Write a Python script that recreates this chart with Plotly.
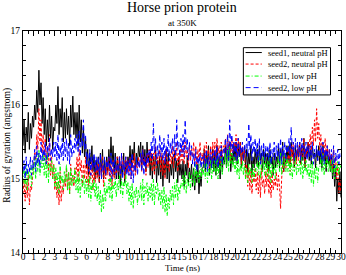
import plotly.graph_objects as go

# time axis: 0 .. 30 ns, step 0.1 ns
time_ns = [round(i * 0.1, 1) for i in range(301)]

seed1_neutral = [
    15.45, 15.8, 15.35, 15.7, 15.5, 15.9, 15.4, 15.75, 15.55, 15.85,
    15.7, 16.0, 15.8, 16.2, 15.9, 16.47, 16.0, 16.3, 15.75, 16.1,
    15.6, 15.95, 15.45, 15.8, 15.5, 16.0, 15.55, 15.85, 15.4, 15.7,
    15.65, 16.0, 15.75, 16.25, 15.6, 15.95, 15.7, 16.1, 15.5, 15.9,
    15.55, 15.95, 15.6, 15.85, 15.45, 16.0, 15.7, 16.12, 15.6, 15.9,
    15.55, 15.9, 15.45, 16.0, 15.5, 15.8, 15.35, 15.7, 15.3, 15.55,
    15.15, 15.4, 15.05, 15.35, 15.2, 15.45, 15.1, 15.3, 15.0, 15.25,
    15.05, 15.3, 14.95, 15.35, 15.1, 15.4, 15.0, 15.25, 15.05, 15.3,
    15.1, 15.4, 15.15, 15.57, 15.2, 15.45, 15.05, 15.35, 15.0, 15.3,
    15.0, 15.3, 14.9, 15.2, 15.05, 15.35, 14.95, 15.25, 15.1, 15.3,
    15.2, 15.45, 15.15, 15.4, 15.25, 15.5, 15.1, 15.35, 15.2, 15.45,
    15.3, 15.5, 15.15, 15.45, 15.2, 15.4, 15.1, 15.5, 15.25, 15.35,
    15.05, 15.35, 15.0, 15.3, 15.1, 15.4, 14.95, 15.25, 15.05, 15.3,
    15.0, 15.3, 14.9, 15.25, 15.05, 15.4, 15.0, 15.35, 14.95, 15.2,
    15.05, 15.3, 15.0, 15.35, 15.1, 15.25, 14.95, 15.3, 15.05, 15.2,
    15.0, 15.25, 14.9, 15.2, 15.05, 15.3, 14.95, 15.15, 15.0, 15.2,
    14.9, 15.15, 14.85, 15.1, 14.95, 15.2, 14.8, 15.05, 14.9, 15.15,
    15.15, 15.4, 15.1, 15.35, 15.2, 15.45, 15.05, 15.3, 15.15, 15.4,
    15.1, 15.35, 15.05, 15.45, 15.15, 15.3, 15.0, 15.4, 15.1, 15.3,
    15.2, 15.45, 15.15, 15.4, 15.25, 15.5, 15.1, 15.35, 15.2, 15.45,
    15.25, 15.5, 15.2, 15.45, 15.3, 15.5, 15.15, 15.4, 15.25, 15.45,
    15.15, 15.4, 15.1, 15.35, 15.2, 15.45, 15.05, 15.3, 15.15, 15.4,
    15.2, 15.4, 15.15, 15.45, 15.25, 15.35, 15.1, 15.4, 15.2, 15.35,
    15.15, 15.35, 15.1, 15.4, 15.2, 15.3, 15.05, 15.35, 15.15, 15.3,
    15.2, 15.45, 15.15, 15.4, 15.25, 15.5, 15.1, 15.35, 15.2, 15.45,
    15.25, 15.45, 15.2, 15.5, 15.3, 15.4, 15.15, 15.45, 15.25, 15.4,
    15.3, 15.5, 15.2, 15.45, 15.25, 15.55, 15.15, 15.4, 15.3, 15.5,
    15.25, 15.4, 15.2, 15.45, 15.3, 15.35, 15.15, 15.4, 15.25, 15.45,
    15.2, 15.4, 15.15, 15.45, 15.25, 15.35, 15.1, 15.4, 15.2, 15.3,
    15.1, 15.3, 15.0, 15.2, 14.9, 15.15, 14.7, 15.0, 14.8, 15.1,
    14.75,
]

seed2_neutral = [
    14.8, 15.0, 14.7, 14.95, 14.75, 15.05, 14.65, 14.9, 14.85, 15.0,
    15.1, 15.35, 15.25, 15.6, 15.4, 15.95, 15.5, 15.8, 15.35, 15.6,
    15.3, 15.55, 15.2, 15.45, 15.1, 15.6, 15.05, 15.3, 15.0, 15.2,
    14.85, 15.05, 14.75, 14.95, 14.65, 15.1, 14.7, 14.9, 14.8, 15.0,
    14.9, 15.15, 14.85, 15.1, 14.8, 15.2, 14.95, 15.05, 14.9, 15.15,
    15.05, 15.3, 14.95, 15.4, 15.1, 15.25, 14.9, 15.2, 15.0, 15.3,
    14.95, 15.2, 14.9, 15.15, 15.0, 15.25, 14.85, 15.1, 14.95, 15.2,
    15.0, 15.25, 14.95, 15.2, 15.05, 15.3, 14.9, 15.15, 15.0, 15.25,
    15.05, 15.3, 14.95, 15.2, 14.9, 15.25, 15.0, 15.15, 15.05, 15.3,
    15.1, 15.3, 15.05, 15.35, 15.15, 15.25, 15.0, 15.3, 15.1, 15.25,
    15.05, 15.3, 15.0, 15.25, 15.1, 15.35, 15.05, 15.2, 15.15, 15.3,
    15.15, 15.35, 15.1, 15.4, 15.2, 15.3, 15.05, 15.35, 15.15, 15.4,
    15.2, 15.4, 15.1, 15.35, 15.05, 15.45, 15.15, 15.3, 15.2, 15.4,
    15.1, 15.35, 15.05, 15.3, 15.0, 15.4, 15.15, 15.25, 15.1, 15.35,
    15.2, 15.45, 15.15, 15.4, 15.25, 15.5, 15.1, 15.35, 15.2, 15.45,
    15.25, 15.45, 15.2, 15.5, 15.3, 15.4, 15.15, 15.45, 15.25, 15.4,
    15.3, 15.5, 15.2, 15.45, 15.15, 15.4, 15.25, 15.5, 15.2, 15.35,
    15.25, 15.45, 15.2, 15.5, 15.3, 15.4, 15.15, 15.45, 15.25, 15.5,
    15.3, 15.5, 15.25, 15.55, 15.35, 15.45, 15.2, 15.5, 15.3, 15.45,
    15.35, 15.55, 15.3, 15.6, 15.4, 15.5, 15.25, 15.55, 15.35, 15.5,
    15.4, 15.6, 15.3, 15.55, 15.35, 15.5, 15.2, 15.45, 15.25, 15.4,
    15.0, 15.2, 14.9, 15.15, 14.85, 15.1, 14.8, 15.05, 14.95, 15.15,
    14.85, 15.1, 14.8, 15.05, 14.75, 15.15, 14.9, 15.0, 14.8, 15.1,
    14.9, 15.15, 14.8, 15.05, 14.75, 15.1, 14.85, 15.0, 14.9, 15.1,
    14.85, 15.05, 14.9, 14.6, 15.0, 15.2, 15.1, 15.35, 15.15, 15.3,
    15.2, 15.4, 15.1, 15.45, 15.25, 15.5, 15.15, 15.35, 15.2, 15.45,
    15.25, 15.5, 15.2, 15.45, 15.3, 15.55, 15.15, 15.4, 15.3, 15.5,
    15.4, 15.6, 15.35, 15.7, 15.45, 15.8, 15.5, 15.95, 15.55, 15.75,
    15.4, 15.6, 15.3, 15.5, 15.25, 15.55, 15.35, 15.45, 15.25, 15.4,
    15.2, 15.35, 15.1, 15.4, 15.15, 15.3, 15.0, 15.2, 14.8, 15.0,
    14.8,
]

seed1_low = [
    14.95, 15.15, 14.9, 15.2, 14.85, 15.1, 15.0, 15.15, 14.9, 15.2,
    15.05, 15.3, 15.0, 15.35, 15.1, 15.4, 15.05, 15.25, 15.15, 15.35,
    15.05, 15.3, 15.0, 15.35, 14.95, 15.2, 15.1, 15.25, 15.0, 15.2,
    14.9, 15.15, 14.85, 15.1, 14.8, 15.2, 14.95, 15.05, 14.85, 15.1,
    14.95, 15.2, 14.85, 15.1, 14.8, 15.15, 14.9, 15.05, 14.95, 15.15,
    14.85, 15.05, 14.8, 15.1, 14.75, 15.0, 14.9, 15.05, 14.8, 15.0,
    14.8, 15.0, 14.75, 15.05, 14.7, 14.95, 14.85, 15.0, 14.75, 14.95,
    14.7, 14.9, 14.65, 14.85, 14.55, 14.8, 14.6, 14.95, 14.7, 14.9,
    14.8, 15.0, 14.75, 15.05, 14.7, 14.95, 14.85, 15.0, 14.75, 14.95,
    14.85, 15.05, 14.8, 15.0, 14.75, 14.95, 14.9, 15.05, 14.8, 14.95,
    14.7, 14.9, 14.65, 14.95, 14.6, 14.85, 14.75, 14.9, 14.65, 14.85,
    14.75, 14.95, 14.7, 15.0, 14.65, 14.9, 14.8, 14.95, 14.7, 14.9,
    14.75, 14.95, 14.7, 15.0, 14.65, 14.9, 14.8, 14.95, 14.7, 14.85,
    14.65, 14.85, 14.6, 14.9, 14.55, 14.8, 14.5, 14.75, 14.6, 14.85,
    14.7, 14.9, 14.65, 14.95, 14.75, 15.0, 14.7, 14.9, 14.8, 14.95,
    14.9, 15.05, 14.85, 15.1, 14.8, 15.0, 14.9, 15.1, 14.85, 15.05,
    14.95, 15.15, 14.9, 15.2, 15.0, 15.1, 14.95, 15.2, 15.0, 15.15,
    15.05, 15.2, 15.0, 15.25, 14.95, 15.15, 15.05, 15.25, 15.0, 15.2,
    15.1, 15.25, 15.05, 15.3, 15.0, 15.2, 15.1, 15.3, 15.05, 15.25,
    15.2, 15.35, 15.15, 15.4, 15.1, 15.45, 15.2, 15.35, 15.15, 15.3,
    15.1, 15.25, 15.05, 15.3, 15.0, 15.2, 15.1, 15.25, 15.05, 15.2,
    15.0, 15.15, 14.95, 15.2, 15.05, 15.15, 14.95, 15.2, 15.0, 15.15,
    15.1, 15.25, 15.05, 15.3, 15.0, 15.2, 15.1, 15.3, 15.05, 15.25,
    15.05, 15.25, 15.0, 15.3, 14.95, 15.2, 15.05, 15.25, 15.0, 15.2,
    15.15, 15.3, 15.1, 15.35, 15.05, 15.25, 15.15, 15.35, 15.1, 15.3,
    15.1, 15.25, 15.05, 15.3, 15.0, 15.2, 15.1, 15.3, 15.05, 15.2,
    15.1, 15.25, 15.05, 15.3, 15.0, 15.2, 15.1, 15.25, 15.05, 15.2,
    15.0, 15.2, 14.95, 15.25, 14.9, 15.15, 15.0, 15.2, 14.95, 15.15,
    15.15, 15.3, 15.1, 15.35, 15.05, 15.25, 15.15, 15.3, 15.1, 15.25,
    15.1, 15.25, 15.05, 15.3, 15.0, 15.2, 15.1, 15.25, 15.05, 15.2,
    15.15,
]

seed2_low = [
    15.1, 15.25, 15.0, 15.3, 15.05, 15.2, 15.1, 15.3, 15.05, 15.25,
    15.15, 15.4, 15.1, 15.45, 15.2, 15.35, 15.15, 15.5, 15.25, 15.4,
    15.25, 15.5, 15.2, 15.45, 15.3, 15.55, 15.25, 15.4, 15.3, 15.5,
    15.3, 15.5, 15.25, 15.6, 15.2, 15.45, 15.3, 15.55, 15.25, 15.5,
    15.3, 15.55, 15.25, 15.5, 15.2, 15.6, 15.3, 15.45, 15.35, 15.55,
    15.4, 15.6, 15.35, 15.65, 15.3, 15.55, 15.45, 15.8, 15.4, 15.6,
    15.2, 15.35, 15.1, 15.4, 15.05, 15.3, 15.15, 15.35, 15.1, 15.3,
    15.1, 15.3, 15.05, 15.35, 15.0, 15.25, 15.1, 15.3, 15.05, 15.25,
    15.15, 15.3, 15.05, 15.35, 15.0, 15.25, 15.1, 15.3, 15.05, 15.2,
    15.1, 15.3, 15.05, 15.35, 15.0, 15.25, 15.1, 15.3, 15.05, 15.25,
    15.05, 15.3, 15.0, 15.35, 14.95, 15.2, 15.1, 15.3, 15.05, 15.25,
    15.15, 15.35, 15.1, 15.4, 15.05, 15.3, 15.15, 15.35, 15.2, 15.4,
    15.3, 15.5, 15.25, 15.75, 15.35, 15.55, 15.2, 15.45, 15.3, 15.6,
    15.3, 15.5, 15.25, 15.55, 15.2, 15.45, 15.3, 15.6, 15.25, 15.5,
    15.35, 15.55, 15.3, 15.6, 15.25, 15.8, 15.4, 15.5, 15.3, 15.55,
    15.35, 15.6, 15.3, 15.8, 15.4, 15.55, 15.25, 15.5, 15.3, 15.45,
    15.2, 15.35, 15.15, 15.4, 15.1, 15.3, 15.2, 15.35, 15.15, 15.3,
    15.2, 15.35, 15.15, 15.4, 15.1, 15.3, 15.2, 15.4, 15.15, 15.35,
    15.25, 15.4, 15.2, 15.45, 15.15, 15.35, 15.25, 15.45, 15.2, 15.4,
    15.35, 15.55, 15.3, 15.6, 15.25, 15.8, 15.4, 15.6, 15.35, 15.5,
    15.3, 15.5, 15.25, 15.55, 15.3, 15.45, 15.35, 15.5, 15.25, 15.45,
    15.35, 15.55, 15.3, 15.75, 15.4, 15.6, 15.25, 15.5, 15.35, 15.55,
    15.3, 15.5, 15.25, 15.55, 15.2, 15.45, 15.3, 15.5, 15.25, 15.45,
    15.3, 15.45, 15.25, 15.5, 15.2, 15.4, 15.3, 15.5, 15.25, 15.45,
    15.3, 15.5, 15.25, 15.55, 15.2, 15.45, 15.3, 15.5, 15.25, 15.45,
    15.35, 15.55, 15.3, 15.7, 15.4, 15.5, 15.25, 15.55, 15.3, 15.5,
    15.3, 15.5, 15.25, 15.55, 15.35, 15.45, 15.3, 15.5, 15.25, 15.45,
    15.3, 15.45, 15.25, 15.5, 15.2, 15.4, 15.3, 15.45, 15.25, 15.4,
    15.3, 15.45, 15.25, 15.5, 15.2, 15.4, 15.3, 15.45, 15.25, 15.4,
    15.25, 15.4, 15.2, 15.45, 15.15, 15.35, 15.25, 15.4, 15.2, 15.35,
    15.3,
]

series_names = ["seed1, neutral pH", "seed2, neutral pH", "seed1, low pH", "seed2, low pH"]
series_values = [seed1_neutral, seed2_neutral, seed1_low, seed2_low]
colors = ["#000000", "#ff0000", "#00ff00", "#0000ff"]
dashes = ["solid", "3px,2px", "4px,2px,1px,2px", "5px,3px"]

x_ticks = list(range(0, 31))
y_ticks = [14, 15, 16, 17]

FONT = "Liberation Serif"

fig = go.Figure()
for name, vals, c, d in zip(series_names, series_values, colors, dashes):
    fig.add_trace(go.Scatter(
        x=time_ns, y=vals, mode="lines", name=name,
        line=dict(color=c, width=1, dash=d), showlegend=False,
    ))

# legend (Grace-style box)
fig.add_shape(type="rect", xref="paper", yref="paper",
              x0=0.693, x1=0.967, y0=0.712, y1=0.925,
              line=dict(color="black", width=1), fillcolor="white", layer="above")
row_y = [0.903, 0.851, 0.797, 0.745]
for name, c, d, yy in zip(series_names, colors, dashes, row_y):
    fig.add_shape(type="line", xref="paper", yref="paper",
                  x0=0.700, x1=0.751, y0=yy, y1=yy,
                  line=dict(color=c, width=1, dash=d), layer="above")
    fig.add_annotation(text=name, xref="paper", yref="paper",
                       x=0.768, y=yy, xanchor="left", yanchor="middle",
                       showarrow=False, borderpad=0,
                       font=dict(family=FONT, size=8.5, color="black"))

fig.add_annotation(text="Horse prion protein", xref="paper", yref="paper",
                   x=0.5, y=1.108, xanchor="center", yanchor="middle",
                   showarrow=False, font=dict(family=FONT, size=14, color="black"))
fig.add_annotation(text="at 350K", xref="paper", yref="paper",
                   x=0.5, y=1.036, xanchor="center", yanchor="middle",
                   showarrow=False, font=dict(family=FONT, size=9, color="black"))
# axis titles
fig.add_annotation(text="Time (ns)", xref="paper", yref="paper",
                   x=0.5, y=-0.068, xanchor="center", yanchor="middle",
                   showarrow=False, font=dict(family=FONT, size=9, color="black"))
fig.add_annotation(text="Radius of gyration (angstrom)", xref="paper", yref="paper",
                   x=-0.05, y=0.484, xanchor="center", yanchor="middle", textangle=-90,
                   showarrow=False, font=dict(family=FONT, size=9.5, color="black"))

fig.update_layout(
    width=346, height=275,
    margin=dict(l=23, r=5, t=31, b=22, autoexpand=False),
    paper_bgcolor="white", plot_bgcolor="white",
    font=dict(family=FONT, size=9, color="black"),
    showlegend=False,
)
fig.update_xaxes(
    range=[0, 30], tickvals=x_ticks, ticktext=[str(v) for v in x_ticks],
    tickangle=0, automargin=False, ticklabeloverflow="allow",
    ticklabelstandoff=-5,
    ticks="inside", ticklen=5, tickwidth=1, tickcolor="black",
    minor=dict(dtick=0.5, tick0=0, ticks="inside", ticklen=3, tickcolor="black"),
    showline=True, linecolor="black", linewidth=1, mirror="allticks",
    showgrid=False, zeroline=False,
    tickfont=dict(family=FONT, size=9.5),
)
fig.update_yaxes(
    range=[14, 17], tickvals=y_ticks, ticktext=[str(v) for v in y_ticks],
    automargin=False, ticklabeloverflow="allow",
    ticks="inside", ticklen=5, tickwidth=1, tickcolor="black",
    minor=dict(dtick=0.2, tick0=14, ticks="inside", ticklen=3, tickcolor="black"),
    showline=True, linecolor="black", linewidth=1, mirror="allticks",
    showgrid=False, zeroline=False,
    tickfont=dict(family=FONT, size=9.5),
)

fig.write_html(
    "out.html",
    config={"displayModeBar": False},
    post_script="document.body.style.margin='0px';document.body.style.overflow='hidden';",
)
